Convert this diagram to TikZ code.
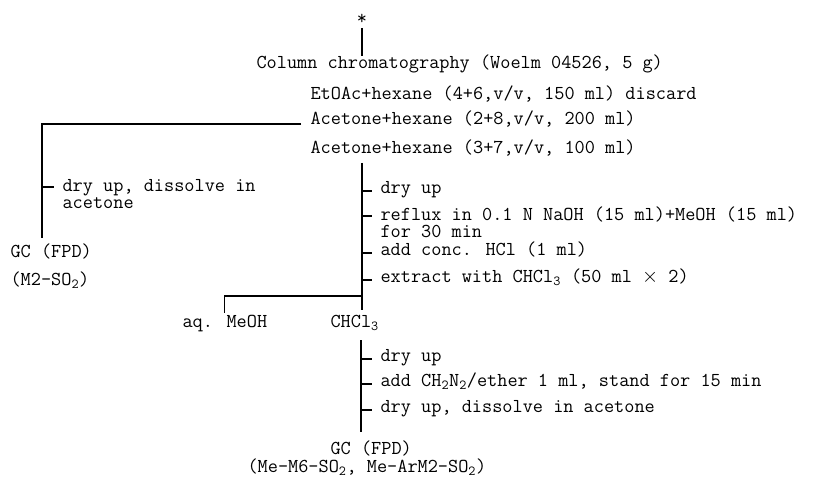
\documentclass[tikz,border=0pt]{standalone}
\usepackage{tikz}
\usetikzlibrary{positioning}

\begin{document}
\begin{tikzpicture}[x=1bp, y=-1bp, line width=1.1bp,
    txt/.style={font=\fontsize{19.8}{20}\selectfont\ttfamily, inner sep=0pt, text height=0.75em, text depth=0.25em, anchor=west},
    txtm/.style={font=\fontsize{19.8}{#1}\selectfont\ttfamily, inner sep=0pt, align=left, anchor=north west,
        execute at begin node={\setlength{\lineskiplimit}{-20pt}}}]
    \useasboundingbox (0,0) rectangle (821,482);

    % column and eluates
    \node (star) at (362,22) [txt, anchor=center] {*};
    \node (col) at (256,66) [txt] {Column chromatography (Woelm 04526, 5 g)};
    \node (el1) at (310,97) [txt] {EtOAc+hexane (4+6,v/v, 150 ml) discard};
    \node (el2) at (310,122) [txt] {Acetone+hexane (2+8,v/v, 200 ml)};
    \node (el3) at (310,151) [txt] {Acetone+hexane (3+7,v/v, 100 ml)};

    % fraction 2
    \node (dry0) at (62,177) [txtm=17] {\vphantom{(}dry up, dissolve in\\acetone};
    \node (gc1) at (10,255) [txt] {GC (FPD)};
    \node (m2) at (10,283) [txt] {(M2-SO\textsubscript{2})};
    \coordinate (left) at (42,238);

    % fraction 3
    \coordinate (tr1) at (362,163);
    \coordinate (tr1end) at (362,310);
    \node (st1) at (380,191) [txt] {dry up};
    \node (st2) at (380,206) [txtm=17] {\vphantom{(}reflux in 0.1 N NaOH (15 ml)+MeOH (15 ml)\\for 30 min};
    \node (st3) at (380,253) [txt] {add conc. HCl (1 ml)};
    \node (st4) at (380,280) [txt] {extract with CHCl\textsubscript{3} (50 ml $\times$ 2)};

    \node (aq) at (182,325) [txt] {aq. MeOH};
    \node (chl) at (330,325) [txt] {CHCl\textsubscript{3}};
    \coordinate (br) at (362,296);

    % CHCl3 layer
    \coordinate (tr2) at (361,340);
    \coordinate (tr2end) at (361,432);
    \node (st5) at (380,359) [txt] {dry up};
    \node (st6) at (380,384) [txt] {add CH\textsubscript{2}N\textsubscript{2}/ether 1 ml, stand for 15 min};
    \node (st7) at (380,410) [txt] {dry up, dissolve in acetone};
    \node (gc2) at (330,452) [txt] {GC (FPD)};
    \node (me) at (247,470) [txt] {(Me-M6-SO\textsubscript{2}, Me-ArM2-SO\textsubscript{2})};

    \draw [shorten <=6bp, shorten >=4bp] (star.center) -- (star.center |- col.north);
    \draw ([xshift=-9bp,yshift=-2bp]el2.west) -| (left);
    \draw ([xshift=-20bp,yshift=-10bp]dry0.north west) -- ([xshift=-8bp,yshift=-10bp]dry0.north west);
    \draw (tr1) -- (tr1end);
    \foreach \s in {st1,st3,st4} { \draw (tr1 |- \s.west) -- ([xshift=-8bp]\s.west); }
    \draw ([xshift=-18bp,yshift=-10bp]st2.north west) -- ([xshift=-8bp,yshift=-10bp]st2.north west);
    \draw (br) -| ([yshift=6bp]aq.north);
    \draw (tr2) -- (tr2end);
    \foreach \s in {st5,st6,st7} { \draw (tr2 |- \s.west) -- ([xshift=-8bp]\s.west); }
\end{tikzpicture}
\end{document}
